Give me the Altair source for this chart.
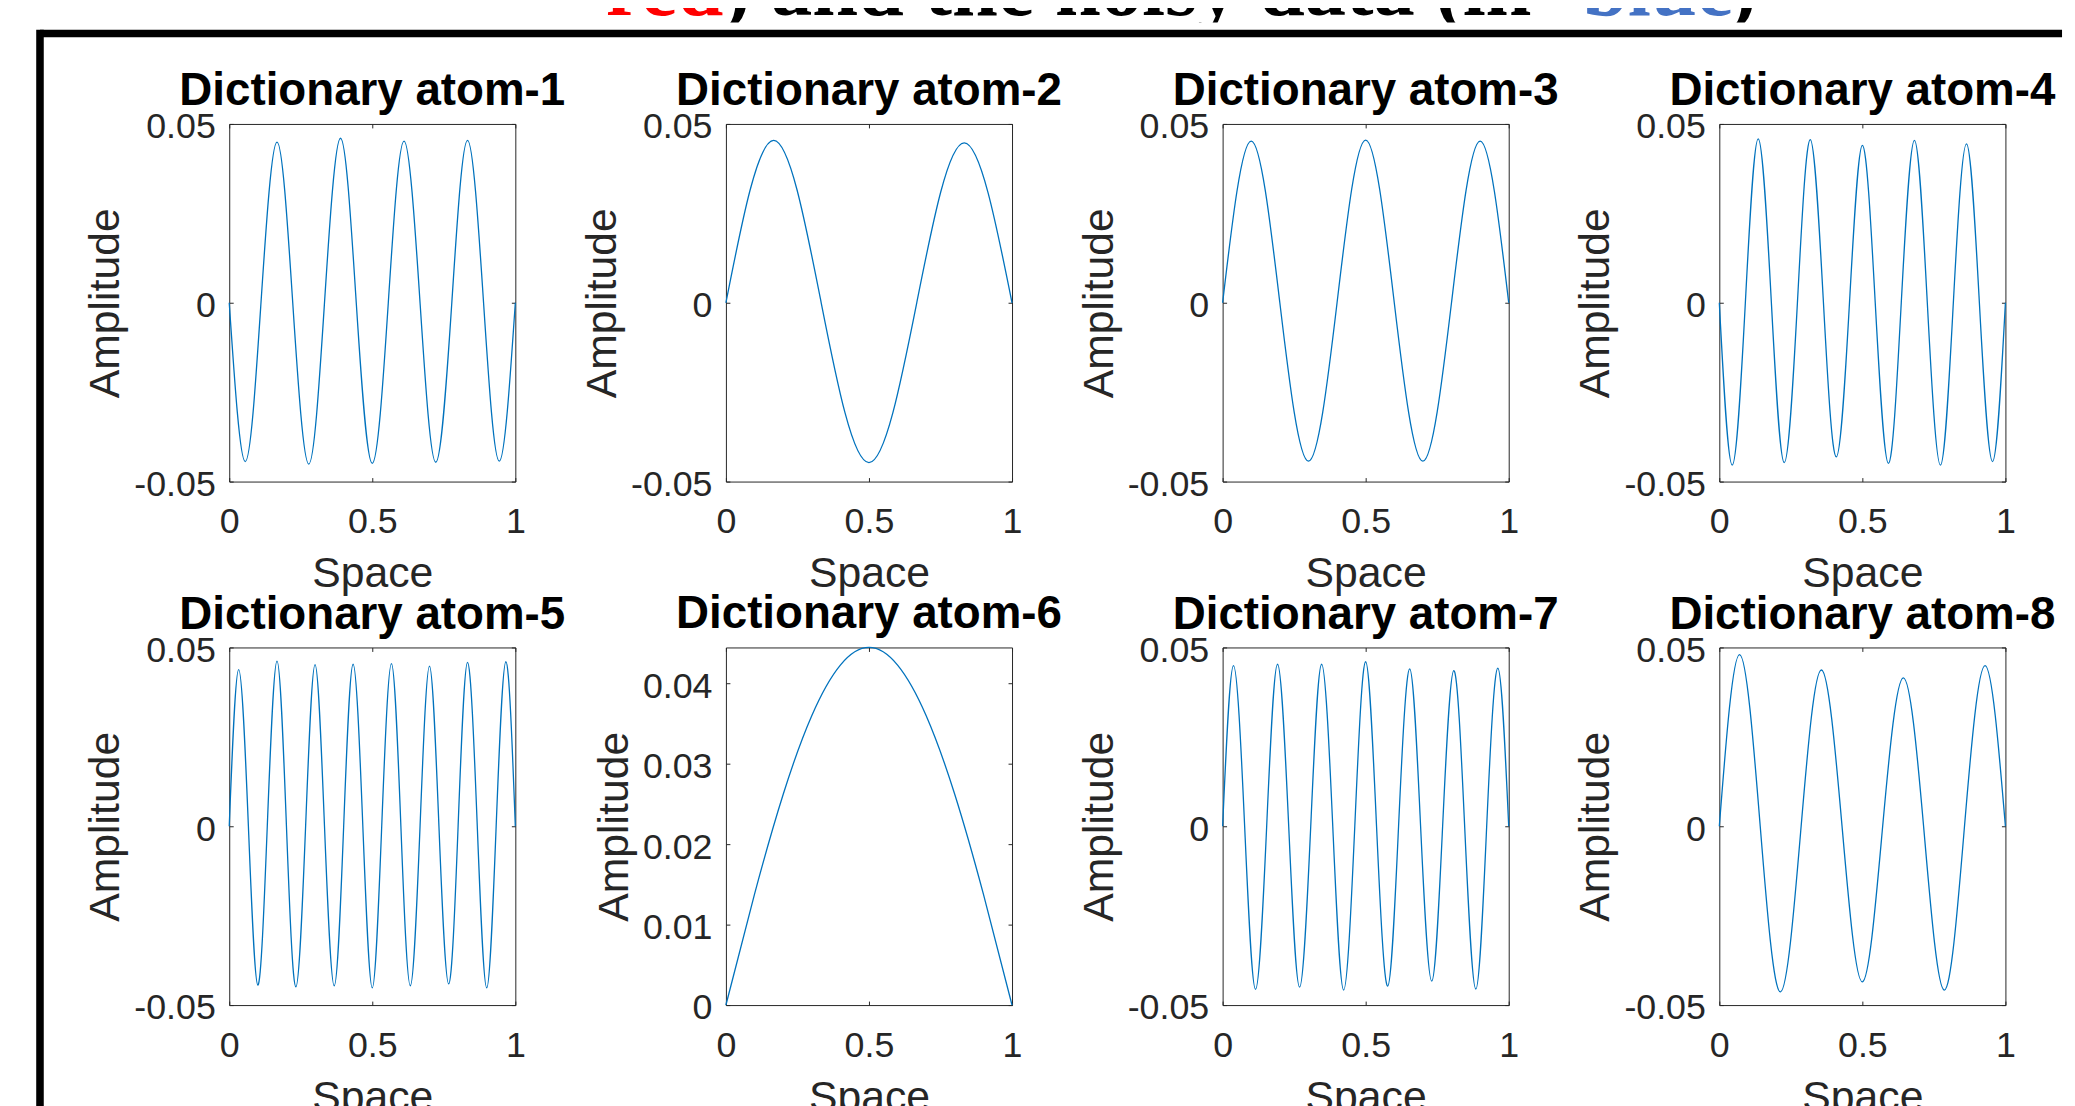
import altair as alt
import pandas as pd

# ---------------- data ----------------
atom_names = [f"Dictionary atom-{i}" for i in range(1, 9)]

atom1_x = [0, 0.056, 0.111, 0.167, 0.222, 0.278, 0.333, 0.389, 0.444, 0.5,
           0.556, 0.611, 0.667, 0.722, 0.778, 0.833, 0.889, 0.944, 1]
atom1_y = [0, -0.0444, 0, 0.0449, 0, -0.0451, 0, 0.0460, 0, -0.0449,
           0, 0.0452, 0, -0.0446, 0, 0.0454, 0, -0.0443, 0]

atom2_x = [0, 0.167, 0.333, 0.5, 0.667, 0.833, 1]
atom2_y = [0, 0.0454, 0, -0.0447, 0, 0.0447, 0]

atom3_x = [0, 0.1, 0.2, 0.3, 0.4, 0.5, 0.6, 0.7, 0.8, 0.9, 1]
atom3_y = [0, 0.0452, 0, -0.0443, 0, 0.0455, 0, -0.0443, 0, 0.0452, 0]

atom4_x = [0, 0.045, 0.091, 0.136, 0.182, 0.227, 0.273, 0.318, 0.364, 0.409, 0.455, 0.5,
           0.545, 0.591, 0.636, 0.682, 0.727, 0.773, 0.818, 0.864, 0.909, 0.955, 1]
atom4_y = [0, -0.0454, 0, 0.0458, 0, -0.0447, 0, 0.0456, 0, -0.0431, 0, 0.0440,
           0, -0.0449, 0, 0.0454, 0, -0.0454, 0, 0.0444, 0, -0.0444, 0]

atom5_x = [0, 0.033, 0.067, 0.1, 0.133, 0.167, 0.2, 0.233, 0.267, 0.3, 0.333, 0.367,
           0.4, 0.433, 0.467, 0.5, 0.533, 0.567, 0.6, 0.633, 0.667, 0.7, 0.733,
           0.767, 0.8, 0.833, 0.867, 0.9, 0.933, 0.967, 1]
atom5_y = [0, 0.0438, 0, -0.0444, 0, 0.0462, 0, -0.0449, 0, 0.0452, 0, -0.0446,
           0, 0.0453, 0, -0.0452, 0, 0.0455, 0, -0.0446, 0, 0.0448, 0,
           -0.0441, 0, 0.0458, 0, -0.0452, 0, 0.0460, 0]

atom6_x = [0, 0.1, 0.2, 0.3, 0.4, 0.5, 0.6, 0.7, 0.8, 0.9, 1]
atom6_y = [0, 0.0138, 0.0262, 0.0360, 0.0423, 0.0445, 0.0423, 0.0360, 0.0262, 0.0138, 0]

atom7_x = [0, 0.038, 0.077, 0.115, 0.154, 0.192, 0.231, 0.269, 0.308, 0.346, 0.385,
           0.423, 0.462, 0.5, 0.538, 0.577, 0.615, 0.654, 0.692, 0.731, 0.769,
           0.808, 0.846, 0.885, 0.923, 0.962, 1]
atom7_y = [0, 0.0449, 0, -0.0456, 0, 0.0453, 0, -0.0450, 0, 0.0453, 0,
           -0.0458, 0, 0.0460, 0, -0.0447, 0, 0.0440, 0, -0.0433, 0,
           0.0435, 0, -0.0455, 0, 0.0442, 0]

atom8_x = [0, 0.071, 0.143, 0.214, 0.286, 0.357, 0.429, 0.5, 0.571, 0.643, 0.714,
           0.786, 0.857, 0.929, 1]
atom8_y = [0, 0.0480, 0, -0.0463, 0, 0.0437, 0, -0.0435, 0, 0.0415, 0,
           -0.0458, 0, 0.0449, 0]

x_ticks = [0, 0.5, 1]
y_domain_std = [-0.05, 0.05]
y_ticks_std = [-0.05, 0, 0.05]
y_domain_6 = [0, 0.0445]
y_ticks_6 = [0, 0.01, 0.02, 0.03, 0.04]

title_segments = ["red", ") and the noisy data (in ", "blue", ")"]
title_colors = ["#FF0000", "#000000", "#4472C4", "#000000"]
title_x = [609, 727, 1592, 1740]

# ---------------- styling ----------------
FONT = "Liberation Sans"
AX = "#262626"
LINE = "#0072BD"
PW, PH = 288, 360


def make_panel(name, xs, ys, ydom, yvals, title_offset):
    df = pd.DataFrame({"Space": xs, "Amplitude": ys})
    xsc = alt.Scale(domain=[0, 1], nice=False, zero=False)
    ysc = alt.Scale(domain=ydom, nice=False, zero=False)
    common = dict(domain=False, grid=False, tickSize=4, offset=-4, tickColor=AX,
                  tickWidth=1, labelOverlap=False, labelFlush=False)
    xax = alt.Axis(values=x_ticks, format="~g", orient="bottom", title="Space",
                   labelFont=FONT, labelFontSize=36, labelColor=AX, labelPadding=23.5,
                   titleFont=FONT, titleFontSize=43, titleColor=AX,
                   titleFontWeight="normal", titlePadding=13.5, **common)
    yax = alt.Axis(values=yvals, format="~g",
                   labelExpr="replace(datum.label, '\u2212', '-')",
                   orient="left", title="Amplitude",
                   labelFont=FONT, labelFontSize=36, labelColor=AX, labelPadding=14,
                   labelOffset=3, titleFont=FONT, titleFontSize=43, titleColor=AX,
                   titleFontWeight="normal", titlePadding=6, **common)
    xax2 = alt.Axis(values=x_ticks, orient="top", labels=False, title=None, **common)
    yax2 = alt.Axis(values=yvals, orient="right", labels=False, title=None, **common)
    line = alt.Chart(df).mark_line(color=LINE, strokeWidth=1.3, interpolate="natural").encode(
        x=alt.X("Space:Q", scale=xsc, axis=xax),
        y=alt.Y("Amplitude:Q", scale=ysc, axis=yax),
    )
    ghost = alt.Chart(df).mark_line(opacity=0).encode(
        x=alt.X("Space:Q", scale=xsc, axis=xax2),
        y=alt.Y("Amplitude:Q", scale=ysc, axis=yax2),
    )
    return alt.layer(line, ghost).resolve_axis(x="independent", y="independent").properties(
        width=PW, height=PH,
        title=alt.Title(name, font=FONT, fontSize=46, fontWeight="bold", color="black",
                        anchor="middle", frame="group", baseline="alphabetic",
                        offset=title_offset),
    )


atoms = [(atom1_x, atom1_y), (atom2_x, atom2_y), (atom3_x, atom3_y), (atom4_x, atom4_y),
         (atom5_x, atom5_y), (atom6_x, atom6_y), (atom7_x, atom7_y), (atom8_x, atom8_y)]
panels = []
for i, (xs, ys) in enumerate(atoms):
    if i == 5:
        panels.append(make_panel(atom_names[i], xs, ys, y_domain_6, y_ticks_6, -29))
    else:
        panels.append(make_panel(atom_names[i], xs, ys, y_domain_std, y_ticks_std, -42))

grid = alt.concat(*panels, columns=4, spacing={"row": 167, "column": 212}, bounds="flush")

# ---------------- cut-off figure title and frame ----------------
TW, TH = 1600, 15
tdf = pd.DataFrame({"seg": title_segments, "col": title_colors, "px": title_x})
title_text = alt.Chart(tdf).mark_text(
    align="left", baseline="alphabetic", font="Liberation Serif", fontWeight="bold",
    fontSize=83, clip=True,
).encode(
    x=alt.X("px:Q", scale=alt.Scale(domain=[230, 230 + TW], nice=False, zero=False), axis=None),
    y=alt.value(7),
    text="seg:N",
    color=alt.Color("col:N", scale=None),
)
one = pd.DataFrame({"k": [0]})
frame_top = alt.Chart(one).mark_rule(color="black", strokeWidth=7.6).encode(
    x=alt.value(-190.5), x2=alt.value(1845), y=alt.value(25.9))
frame_left = alt.Chart(one).mark_rule(color="black", strokeWidth=7.6).encode(
    x=alt.value(-190.5), y=alt.value(22.1), y2=alt.value(1110))
title_chart = alt.layer(title_text, frame_top, frame_left).properties(
    width=TW, height=TH, view=alt.ViewBackground(stroke="transparent"))

chart = alt.vconcat(title_chart, grid, spacing=102, bounds="flush").properties(
    padding={"left": 27.7, "top": -5, "right": 0, "bottom": 0},
    background="white",
).configure_view(stroke=AX, strokeWidth=1)

chart.save("out.html", embed_options={"renderer": "svg", "actions": False})
